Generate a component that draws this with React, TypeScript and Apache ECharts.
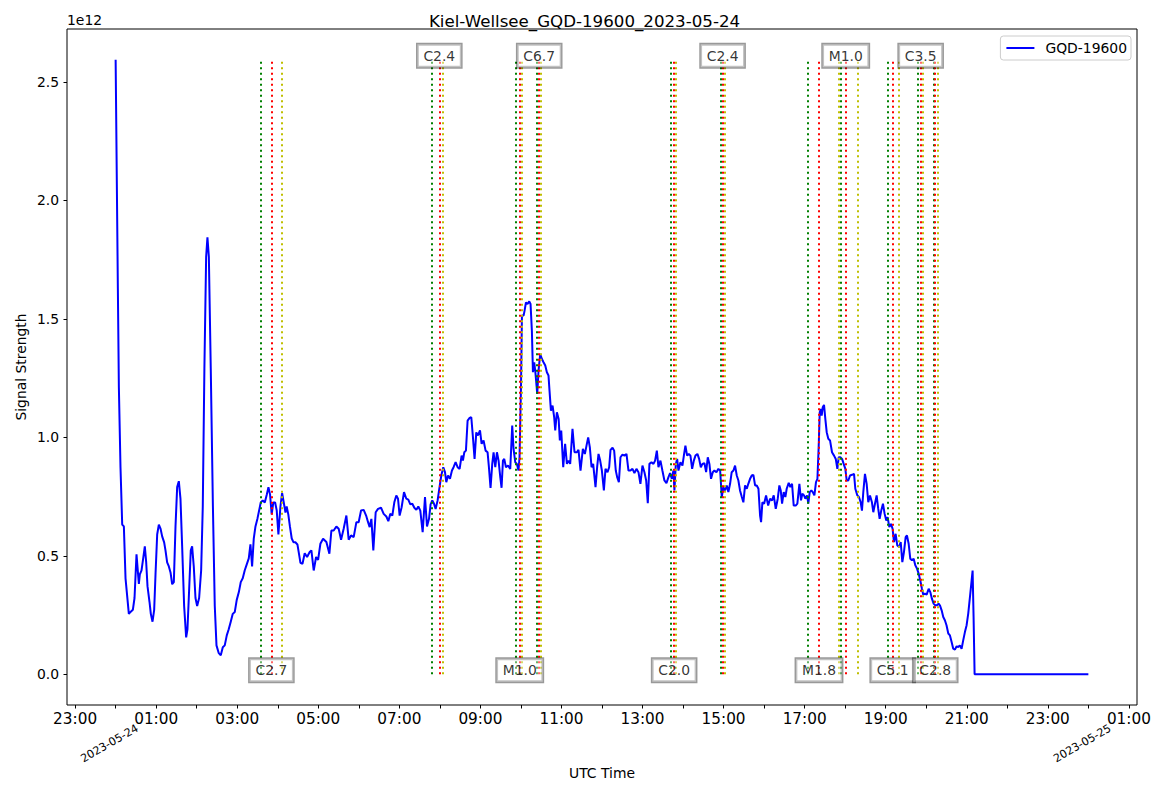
import { useEffect, useRef } from "react";
import * as echarts from "echarts";

const TITLE = "Kiel-Wellsee_GQD-19600_2023-05-24";
const SERIES_NAME = "GQD-19600";
const X_NAME = "UTC Time";
const Y_NAME = "Signal Strength";
const Y_EXPONENT = "1e12";

// time in hours since 2023-05-24 00:00 UTC
const hours = [
  0.0, 0.055, 0.08, 0.12, 0.162, 0.203, 0.244, 0.326, 0.367, 0.425, 0.466, 0.515, 0.573, 0.597, 0.639, 0.68, 0.72, 0.754, 0.786, 0.836,
  0.868, 0.91, 0.951, 0.984, 1.025, 1.066, 1.107, 1.148, 1.197, 1.23, 1.271, 1.313, 1.354, 1.395, 1.436, 1.477, 1.518, 1.559, 1.6, 1.641,
  1.69, 1.74, 1.772, 1.805, 1.854, 1.887, 1.928, 1.97, 2.011, 2.06, 2.11, 2.15, 2.19, 2.233, 2.265, 2.3, 2.347, 2.4, 2.446, 2.488,
  2.545, 2.594, 2.644, 2.692, 2.742, 2.79, 2.84, 2.89, 2.94, 2.988, 3.04, 3.087, 3.136, 3.186, 3.235, 3.285, 3.326, 3.367, 3.408, 3.45,
  3.5, 3.54, 3.58, 3.63, 3.68, 3.73, 3.77, 3.81, 3.85, 3.89, 3.935, 3.975, 4.016, 4.066, 4.107, 4.148, 4.19, 4.22, 4.26, 4.3,
  4.345, 4.39, 4.435, 4.485, 4.526, 4.56, 4.61, 4.665, 4.724, 4.788, 4.83, 4.887, 4.946, 4.995, 5.052, 5.118, 5.2, 5.274, 5.323, 5.38,
  5.446, 5.503, 5.562, 5.626, 5.693, 5.75, 5.809, 5.873, 5.94, 5.996, 6.055, 6.12, 6.18, 6.228, 6.268, 6.31, 6.358, 6.416, 6.474, 6.548,
  6.613, 6.679, 6.728, 6.777, 6.827, 6.876, 6.925, 6.967, 7.007, 7.056, 7.115, 7.172, 7.221, 7.271, 7.32, 7.37, 7.419, 7.468, 7.517, 7.575,
  7.633, 7.682, 7.732, 7.771, 7.813, 7.855, 7.895, 7.944, 7.994, 8.035, 8.084, 8.126, 8.158, 8.2, 8.249, 8.298, 8.338, 8.388, 8.437, 8.487,
  8.536, 8.569, 8.602, 8.643, 8.684, 8.734, 8.775, 8.816, 8.856, 8.898, 8.94, 8.99, 9.03, 9.078, 9.128, 9.177, 9.21, 9.25, 9.292, 9.325,
  9.367, 9.408, 9.448, 9.49, 9.522, 9.556, 9.588, 9.63, 9.68, 9.736, 9.785, 9.818, 9.86, 9.9, 9.94, 9.965, 10.0, 10.025, 10.065, 10.09,
  10.124, 10.163, 10.205, 10.237, 10.27, 10.296, 10.328, 10.36, 10.402, 10.434, 10.476, 10.517, 10.557, 10.6, 10.64, 10.68, 10.705, 10.74, 10.78, 10.82,
  10.846, 10.887, 10.93, 10.96, 10.994, 11.043, 11.09, 11.134, 11.174, 11.215, 11.272, 11.322, 11.38, 11.42, 11.47, 11.528, 11.577, 11.618, 11.659, 11.7,
  11.742, 11.782, 11.84, 11.88, 11.914, 11.955, 11.997, 12.046, 12.086, 12.136, 12.177, 12.21, 12.26, 12.3, 12.34, 12.374, 12.416, 12.456, 12.505, 12.554,
  12.604, 12.653, 12.702, 12.752, 12.8, 12.85, 12.9, 12.948, 12.998, 13.047, 13.09, 13.13, 13.17, 13.22, 13.27, 13.31, 13.353, 13.393, 13.442, 13.49,
  13.54, 13.59, 13.64, 13.68, 13.723, 13.762, 13.787, 13.822, 13.854, 13.886, 13.935, 13.985, 14.026, 14.058, 14.1, 14.142, 14.182, 14.224, 14.266, 14.306,
  14.354, 14.396, 14.438, 14.478, 14.527, 14.569, 14.61, 14.65, 14.69, 14.733, 14.773, 14.823, 14.872, 14.915, 14.955, 14.995, 15.036, 15.078, 15.118, 15.16,
  15.2, 15.243, 15.283, 15.325, 15.365, 15.405, 15.45, 15.488, 15.53, 15.572, 15.61, 15.653, 15.695, 15.735, 15.777, 15.818, 15.86, 15.9, 15.925, 15.957,
  16.0, 16.048, 16.1, 16.146, 16.196, 16.237, 16.287, 16.336, 16.376, 16.41, 16.443, 16.484, 16.524, 16.557, 16.607, 16.647, 16.689, 16.73, 16.78, 16.82,
  16.87, 16.91, 16.943, 16.985, 17.017, 17.06, 17.09, 17.125, 17.165, 17.2, 17.24, 17.28, 17.315, 17.347, 17.372, 17.397, 17.42, 17.446, 17.478, 17.51,
  17.544, 17.584, 17.626, 17.675, 17.725, 17.767, 17.807, 17.84, 17.88, 17.923, 17.963, 18.004, 18.037, 18.077, 18.12, 18.168, 18.218, 18.25, 18.3, 18.34,
  18.382, 18.414, 18.447, 18.488, 18.53, 18.57, 18.612, 18.66, 18.694, 18.735, 18.776, 18.816, 18.85, 18.89, 18.932, 18.974, 19.014, 19.048, 19.088, 19.13,
  19.17, 19.204, 19.245, 19.285, 19.327, 19.37, 19.41, 19.45, 19.492, 19.524, 19.566, 19.606, 19.648, 19.69, 19.73, 19.772, 19.813, 19.853, 19.894, 19.926,
  19.968, 20.01, 20.06, 20.1, 20.14, 20.182, 20.222, 20.264, 20.305, 20.34, 20.38, 20.42, 20.46, 20.5, 20.544, 20.585, 20.626, 20.666, 20.708, 20.75,
  20.79, 20.83, 20.872, 20.912, 20.954, 20.996, 21.036, 21.078, 21.12, 21.144, 21.168, 21.193, 22.0, 23.0, 24.0,
];

// signal strength, in units of 1e12
const signal = [
  2.594, 1.627, 1.21, 0.873, 0.632, 0.624, 0.405, 0.255, 0.263, 0.272, 0.322, 0.506, 0.381, 0.422, 0.439, 0.489, 0.54, 0.472, 0.372, 0.305,
  0.255, 0.222, 0.272, 0.422, 0.59, 0.632, 0.615, 0.582, 0.557, 0.523, 0.472, 0.455, 0.43, 0.38, 0.389, 0.624, 0.79, 0.815, 0.74, 0.54,
  0.288, 0.156, 0.19, 0.322, 0.523, 0.54, 0.455, 0.322, 0.288, 0.322, 0.439, 0.708, 1.292, 1.762, 1.844, 1.762, 1.292, 0.708, 0.288, 0.122,
  0.089, 0.08, 0.114, 0.122, 0.164, 0.19, 0.222, 0.255, 0.263, 0.314, 0.347, 0.389, 0.405, 0.439, 0.464, 0.489, 0.548, 0.455, 0.573, 0.624,
  0.658, 0.691, 0.725, 0.734, 0.725, 0.759, 0.79, 0.759, 0.675, 0.725, 0.725, 0.691, 0.59, 0.708, 0.765, 0.725, 0.683, 0.708, 0.675, 0.624,
  0.573, 0.557, 0.557, 0.548, 0.506, 0.47, 0.466, 0.511, 0.495, 0.516, 0.523, 0.438, 0.495, 0.483, 0.551, 0.572, 0.558, 0.509, 0.607, 0.607,
  0.624, 0.614, 0.568, 0.614, 0.67, 0.568, 0.586, 0.579, 0.642, 0.642, 0.691, 0.694, 0.67, 0.642, 0.621, 0.656, 0.523, 0.684, 0.698, 0.703,
  0.677, 0.666, 0.646, 0.677, 0.67, 0.726, 0.755, 0.741, 0.67, 0.705, 0.769, 0.741, 0.737, 0.717, 0.72, 0.703, 0.694, 0.708, 0.691, 0.6,
  0.748, 0.624, 0.656, 0.717, 0.734, 0.72, 0.698, 0.734, 0.793, 0.839, 0.874, 0.853, 0.811, 0.839, 0.825, 0.86, 0.874, 0.895, 0.874, 0.867,
  0.923, 0.902, 0.937, 0.944, 1.071, 1.082, 1.085, 1.0, 0.909, 1.021, 1.008, 1.029, 0.973, 0.987, 0.944, 0.937, 0.874, 0.787, 0.888, 0.937,
  0.874, 0.937, 0.902, 0.832, 0.787, 0.902, 0.909, 0.874, 0.881, 0.867, 1.05, 0.951, 0.895, 0.888, 0.86, 0.916, 1.197, 1.514, 1.514, 1.535,
  1.57, 1.563, 1.574, 1.563, 1.45, 1.275, 1.317, 1.268, 1.183, 1.282, 1.352, 1.331, 1.317, 1.303, 1.275, 1.261, 1.197, 1.113, 1.134, 1.085,
  1.029, 1.106, 1.078, 0.987, 1.029, 0.874, 0.973, 0.888, 0.902, 0.888, 1.036, 0.937, 0.937, 0.947, 0.86, 0.951, 0.93, 0.965, 1.0, 0.958,
  0.874, 0.888, 0.79, 0.874, 0.93, 0.902, 0.86, 0.776, 0.867, 0.853, 0.874, 0.947, 0.956, 0.944, 0.86, 0.832, 0.811, 0.916, 0.927, 0.923,
  0.93, 0.86, 0.86, 0.867, 0.849, 0.867, 0.853, 0.804, 0.881, 0.853, 0.818, 0.722, 0.888, 0.895, 0.888, 0.902, 0.944, 0.874, 0.902, 0.86,
  0.818, 0.807, 0.832, 0.849, 0.825, 0.86, 0.776, 0.888, 0.909, 0.86, 0.895, 0.881, 0.93, 0.965, 0.923, 0.93, 0.923, 0.867, 0.902, 0.923,
  0.93, 0.909, 0.874, 0.888, 0.891, 0.853, 0.916, 0.888, 0.825, 0.853, 0.86, 0.853, 0.867, 0.86, 0.748, 0.79, 0.776, 0.797, 0.769, 0.804,
  0.853, 0.86, 0.881, 0.839, 0.818, 0.776, 0.748, 0.726, 0.797, 0.783, 0.804, 0.825, 0.839, 0.842, 0.797, 0.797, 0.783, 0.67, 0.642, 0.726,
  0.72, 0.755, 0.712, 0.741, 0.734, 0.755, 0.698, 0.741, 0.797, 0.776, 0.72, 0.769, 0.748, 0.783, 0.808, 0.79, 0.804, 0.712, 0.712, 0.72,
  0.804, 0.734, 0.762, 0.755, 0.741, 0.755, 0.72, 0.769, 0.776, 0.769, 0.755, 0.811, 0.825, 0.965, 1.106, 1.12, 1.092, 1.127, 1.137, 1.078,
  1.022, 0.994, 0.987, 0.937, 0.923, 0.909, 0.867, 0.916, 0.916, 0.909, 0.888, 0.867, 0.818, 0.818, 0.839, 0.842, 0.846, 0.783, 0.755, 0.748,
  0.726, 0.691, 0.769, 0.846, 0.804, 0.726, 0.755, 0.726, 0.684, 0.72, 0.755, 0.698, 0.656, 0.691, 0.72, 0.677, 0.649, 0.663, 0.621, 0.635,
  0.614, 0.558, 0.593, 0.544, 0.537, 0.558, 0.473, 0.516, 0.579, 0.586, 0.551, 0.488, 0.481, 0.488, 0.46, 0.446, 0.425, 0.396, 0.361, 0.336,
  0.34, 0.336, 0.361, 0.347, 0.319, 0.298, 0.291, 0.291, 0.298, 0.29, 0.27, 0.242, 0.228, 0.207, 0.172, 0.164, 0.136, 0.108, 0.104, 0.118,
  0.115, 0.122, 0.108, 0.143, 0.178, 0.207, 0.256, 0.326, 0.396, 0.438, 0.242, 0.0, 0.0, 0.0, 0.0,
];

// flare events (hours since 2023-05-24 00:00 UTC)
const flareClass = ["C2.7", "C2.4", "M1.0", "C6.7", "C2.0", "C2.4", "M1.8", "M1.0", "C5.1", "C3.5", "C2.8"];
const flareStart = [3.572, 7.789, 9.86, 10.402, 13.698, 14.921, 17.066, 17.89, 19.048, 19.788, 20.182];
const flarePeak = [3.843, 7.986, 9.97, 10.451, 13.78, 14.975, 17.354, 18.013, 19.172, 19.862, 20.222];
const flareEnd = [4.09, 8.077, 10.02, 10.501, 13.817, 15.025, 17.83, 18.316, 19.32, 19.926, 20.281];

// date tick labels at day boundaries (hours 0 and 24)
const dateLabels = ["2023-05-24", "2023-05-25"];
const yTicks = [0, 0.5, 1.0, 1.5, 2.0, 2.5];

const W = 1169;
const H = 792;
const PL = 67;
const PR = 1137;
const PT = 29;
const PB = 705;
const FONT = "DejaVu Sans";

export default function App() {
  const ref = useRef<HTMLDivElement>(null);

  useEffect(() => {
    if (!ref.current) return;
    const chart = echarts.init(ref.current, null, { renderer: "svg" });

    const hMin = Math.min(...hours);
    const hMax = Math.max(...hours);
    const xMin = hMin - 0.05 * (hMax - hMin);
    const xMax = hMax + 0.05 * (hMax - hMin);
    const vMin = Math.min(...signal);
    const vMax = Math.max(...signal);
    const yMin = vMin - 0.05 * (vMax - vMin);
    const yMax = vMax + 0.05 * (vMax - vMin);

    const px = (h: number) => PL + ((h - xMin) / (xMax - xMin)) * (PR - PL);
    const py = (v: number) => PB - ((v - yMin) / (yMax - yMin)) * (PB - PT);

    const tickMin = Math.ceil(xMin);
    const tickMax = Math.floor(xMax);
    const yTickMin = yTicks[0];
    const yTickMax = yTicks[yTicks.length - 1];

    const vline = (name: string, color: string, arr: number[]) => ({
      name,
      type: "line",
      xAxisIndex: 0,
      yAxisIndex: 0,
      data: [],
      silent: true,
      z: 5,
      markLine: {
        silent: true,
        symbol: ["none", "none"],
        label: { show: false },
        emphasis: { disabled: true },
        lineStyle: { color, width: 2, type: [2, 3.5] },
        data: arr.map((h) => [{ coord: [h, 0] }, { coord: [h, vMax] }]),
      },
    });

    const hourLabel = (v: number) => {
      const r = Math.round(v);
      const hh = ((r % 24) + 24) % 24;
      return hh % 2 === 1 ? String(hh).padStart(2, "0") + ":00" : "";
    };

    const tick = { show: true, length: 3.5, lineStyle: { color: "#000", width: 1 } };
    const noLine = { show: false, onZero: false };
    const hidden = {
      axisLine: noLine,
      axisTick: { show: false },
      axisLabel: { show: false },
      splitLine: { show: false },
    };

    chart.setOption({
      animation: false,
      backgroundColor: "#ffffff",
      textStyle: { fontFamily: FONT },
      title: [
        {
          text: TITLE,
          left: "center",
          top: 13,
          padding: 0,
          textStyle: { fontFamily: FONT, fontSize: 16.67, fontWeight: "normal", color: "#000" },
        },
        {
          text: Y_EXPONENT,
          left: PL,
          top: 13,
          padding: 0,
          textStyle: { fontFamily: FONT, fontSize: 13.9, fontWeight: "normal", color: "#000" },
        },
      ],
      legend: {
        data: [SERIES_NAME],
        right: W - 1131,
        top: 36,
        icon: "rect",
        itemWidth: 28,
        itemHeight: 2,
        padding: [5, 4, 5, 6],
        borderColor: "#cccccc",
        borderWidth: 1,
        borderRadius: 3,
        backgroundColor: "#ffffff",
        textStyle: { fontFamily: FONT, fontSize: 13.9, color: "#000", padding: [0, 0, 0, 6] },
      },
      grid: [
        // 0: data area with frame
        {
          left: PL,
          right: W - PR,
          top: PT,
          bottom: H - PB,
          show: true,
          borderColor: "#000",
          borderWidth: 1,
          backgroundColor: "transparent",
        },
        // 1: hourly x ticks along the bottom spine
        {
          left: px(tickMin),
          right: W - px(tickMax),
          top: PT,
          bottom: H - PB,
          show: false,
        },
        // 2: day-boundary date labels
        {
          left: px(hMin),
          right: W - px(hMax),
          top: PT,
          bottom: H - PB,
          show: false,
        },
        // 3: y ticks along the left spine
        {
          left: PL,
          right: W - PR,
          top: py(yTickMax),
          bottom: H - py(yTickMin),
          show: false,
        },
      ],
      xAxis: [
        {
          gridIndex: 0,
          type: "value",
          min: xMin,
          max: xMax,
          ...hidden,
          name: X_NAME,
          nameLocation: "middle",
          nameGap: 61,
          nameTextStyle: { fontFamily: FONT, fontSize: 13.9, color: "#000" },
        },
        {
          gridIndex: 1,
          type: "value",
          position: "bottom",
          min: tickMin,
          max: tickMax,
          interval: 1,
          axisLine: noLine,
          axisTick: tick,
          axisLabel: {
            show: true,
            margin: 6,
            showMinLabel: true,
            showMaxLabel: true,
            fontFamily: FONT,
            fontSize: 15.28,
            color: "#000",
            formatter: hourLabel,
          },
          splitLine: { show: false },
        },
        {
          gridIndex: 2,
          type: "value",
          position: "bottom",
          min: hMin,
          max: hMax,
          interval: 24,
          axisLine: noLine,
          axisTick: { show: false },
          axisLabel: {
            show: true,
            rotate: 30,
            align: "center",
            verticalAlign: "middle",
            margin: 35,
            padding: [0, 14, 0, 0],
            showMinLabel: true,
            showMaxLabel: true,
            fontFamily: FONT,
            fontSize: 11.1,
            color: "#000",
            formatter: (v: number) => dateLabels[Math.round(v / 24)] ?? "",
          },
          splitLine: { show: false },
        },
        {
          gridIndex: 3,
          type: "value",
          min: xMin,
          max: xMax,
          show: false,
          axisLine: noLine,
        },
      ],
      yAxis: [
        {
          gridIndex: 0,
          type: "value",
          min: yMin,
          max: yMax,
          ...hidden,
          name: Y_NAME,
          nameLocation: "middle",
          nameRotate: 90,
          nameGap: 39,
          nameTextStyle: { fontFamily: FONT, fontSize: 13.9, color: "#000" },
        },
        {
          gridIndex: 1,
          type: "value",
          min: yMin,
          max: yMax,
          show: false,
          axisLine: noLine,
        },
        {
          gridIndex: 2,
          type: "value",
          min: yMin,
          max: yMax,
          show: false,
          axisLine: noLine,
        },
        {
          gridIndex: 3,
          type: "value",
          position: "left",
          min: yTickMin,
          max: yTickMax,
          interval: yTicks[1] - yTicks[0],
          axisLine: noLine,
          axisTick: tick,
          axisLabel: {
            show: true,
            margin: 8,
            showMinLabel: true,
            showMaxLabel: true,
            fontFamily: FONT,
            fontSize: 13.9,
            color: "#000",
            formatter: (v: number) => v.toFixed(1),
          },
          splitLine: { show: false },
        },
      ],
      series: [
        {
          name: SERIES_NAME,
          type: "line",
          xAxisIndex: 0,
          yAxisIndex: 0,
          data: hours.map((h, i) => [h, signal[i]]),
          symbol: "none",
          showSymbol: false,
          color: "#0000ff",
          lineStyle: { color: "#0000ff", width: 2 },
          z: 2,
          silent: true,
        },
        vline("start", "#008000", flareStart),
        vline("peak", "#ff0000", flarePeak),
        vline("end", "#bfbf00", flareEnd),
        {
          name: "labels",
          type: "scatter",
          xAxisIndex: 0,
          yAxisIndex: 0,
          symbolSize: 0.1,
          itemStyle: { color: "transparent" },
          silent: true,
          z: 10,
          data: flareClass.map((c, i) => ({ name: c, value: [flarePeak[i], i % 2 === 1 ? vMax : 0] })),
          label: {
            show: true,
            position: "inside",
            formatter: "{b}",
            fontFamily: FONT,
            fontSize: 13.9,
            color: "#000",
            backgroundColor: "rgba(255,255,255,0.5)",
            borderColor: "rgba(0,0,0,0.5)",
            borderWidth: 1.4,
            padding: [5, 6, 4, 6],
            offset: [0, -4],
          },
        },
      ],
    });

    return () => chart.dispose();
  }, []);

  return (
    <div
      ref={ref}
      style={{ position: "absolute", left: 0, top: 0, width: W, height: H, background: "#fff" }}
    />
  );
}
